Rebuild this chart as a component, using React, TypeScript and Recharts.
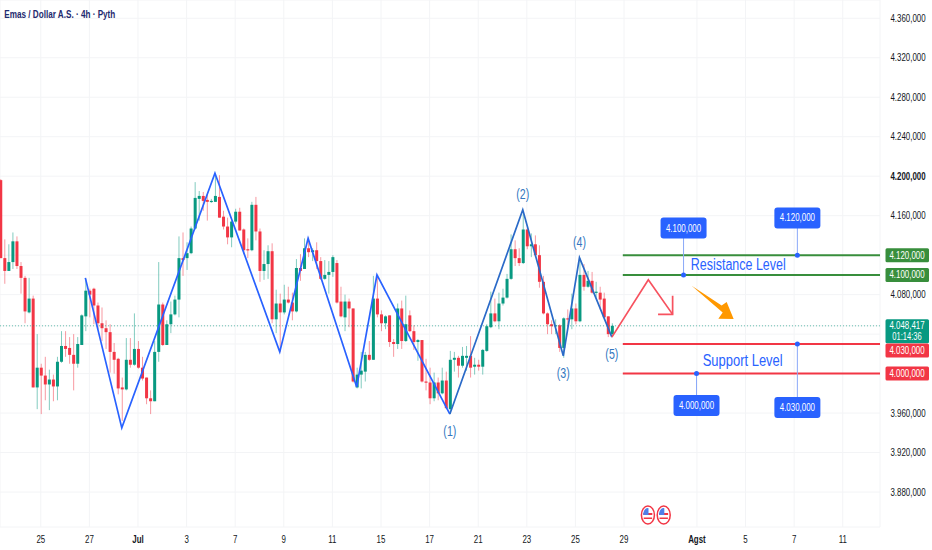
import {
  Bar,
  CartesianGrid,
  ComposedChart,
  Line,
  ReferenceDot,
  ReferenceLine,
  XAxis,
  YAxis,
} from "recharts";

const opens = [
  4196, 4117, 4104, 4113, 4134, 4109, 4097, 4062, 4076, 3986,
  4006, 3998, 3989, 3994, 3987, 4012, 4028, 4026, 4019, 4010,
  4029, 4058, 4084, 4086, 4069, 4051, 4046, 4042, 4022, 4015,
  3986, 3984, 4014, 4009, 4025, 4006, 3996, 3975, 3972, 4022,
  4070, 4029, 4050, 4060, 4075, 4117, 4117, 4122, 4147, 4177,
  4180, 4176, 4174, 4174,
  4179, 4159, 4149, 4138, 4154, 4164, 4146, 4126, 4125, 4171,
  4144, 4104, 4111, 4124, 4055, 4071, 4062, 4075, 4072, 4063,
  4107, 4106, 4127, 4123, 4125, 4114, 4096, 4100, 4103, 4112,
  4073, 4057, 4073, 4066, 3986, 3999, 4002, 4019, 4014, 4076,
  4060, 4051, 4059, 4032, 4030, 4066, 4033, 4059, 4043, 4032,
  4034, 3992, 3991,
  3975, 3991, 3980, 3993, 3964, 4014, 4016, 4008, 4016, 4018,
  4007, 4009, 4007, 4023, 4047, 4061, 4053, 4071, 4077, 4096,
  4126, 4117, 4112, 4146, 4129, 4131, 4120, 4093, 4061, 4050,
  4048, 4049, 4026, 4056, 4055, 4066, 4053, 4100, 4088, 4094,
  4082, 4082, 4076, 4058, 4040,
];
const highs = [
  4197, 4136, 4131, 4143, 4139, 4113, 4099, 4097, 4079, 4040,
  4010, 4017, 4004, 3999, 4017, 4043, 4043, 4037, 4040, 4037,
  4060, 4096, 4086, 4087, 4072, 4067, 4054, 4050, 4031, 4016,
  3996, 4036, 4036, 4061, 4033, 4017, 3996, 3983, 4033, 4113,
  4072, 4054, 4073, 4079, 4139, 4143, 4133, 4149, 4194, 4185,
  4184, 4182, 4177, 4202,
  4201, 4165, 4158, 4155, 4167, 4168, 4147, 4137, 4174, 4179,
  4147, 4125, 4130, 4132, 4085, 4081, 4090, 4088, 4082, 4116,
  4121, 4137, 4138, 4127, 4133, 4118, 4115, 4114, 4120, 4115,
  4088, 4080, 4076, 4066, 4006, 4022, 4022, 4033, 4099, 4099,
  4064, 4059, 4059, 4035, 4071, 4074, 4079, 4064, 4049, 4035,
  4034, 4015, 4006,
  4001, 3996, 4006, 4002, 4023, 4022, 4018, 4027, 4028, 4038,
  4016, 4014, 4025, 4050, 4083, 4076, 4082, 4086, 4101, 4141,
  4135, 4127, 4162, 4147, 4142, 4140, 4130, 4099, 4062, 4054,
  4055, 4050, 4057, 4065, 4081, 4071, 4117, 4111, 4104, 4103,
  4093, 4088, 4082, 4058, 4051,
];
const lows = [
  4117, 4091, 4104, 4106, 4106, 4081, 4051, 4061, 3986, 3964,
  3959, 3973, 3963, 3972, 3973, 4011, 4017, 4010, 3983, 4006,
  4029, 4043, 4057, 4050, 4045, 4033, 4025, 4001, 4000, 3979,
  3952, 3983, 4006, 4008, 4005, 3993, 3969, 3959, 3972, 4012,
  4028, 4029, 4041, 4059, 4057, 4099, 4105, 4121, 4146, 4155,
  4165, 4155, 4173, 4174,
  4158, 4146, 4131, 4128, 4152, 4145, 4121, 4117, 4124, 4135,
  4093, 4095, 4096, 4051, 4041, 4022, 4060, 4071, 4054, 4062,
  4094, 4106, 4118, 4114, 4106, 4095, 4095, 4081, 4098, 4071,
  4057, 4043, 4047, 3991, 3985, 3985, 3992, 4013, 4014, 4057,
  4043, 4045, 4027, 4017, 4025, 4025, 4032, 4042, 4024, 4013,
  3991, 3983, 3969,
  3972, 3973, 3979, 3964, 3959, 4002, 3996, 4006, 4003, 3996,
  3999, 4003, 3999, 4022, 4046, 4052, 4045, 4069, 4076, 4095,
  4109, 4109, 4111, 4126, 4118, 4118, 4087, 4060, 4040, 4040,
  4040, 4022, 4016, 4047, 4045, 4050, 4052, 4084, 4087, 4081,
  4077, 4065, 4056, 4037, 4037,
];
const closes = [
  4117, 4104, 4113, 4134, 4109, 4097, 4063, 4076, 3986, 4006,
  3998, 3989, 3994, 3987, 4012, 4028, 4025, 4019, 4010, 4030,
  4059, 4084, 4080, 4069, 4051, 4046, 4042, 4022, 4014, 3985,
  3984, 4014, 4009, 4025, 4006, 3995, 3975, 3972, 4022, 4070,
  4029, 4050, 4060, 4075, 4117, 4115, 4122, 4147, 4178, 4180,
  4175, 4174, 4175, 4180,
  4158, 4149, 4138, 4154, 4164, 4145, 4125, 4125, 4171, 4144,
  4104, 4111, 4124, 4055, 4071, 4062, 4075, 4072, 4063, 4107,
  4104, 4127, 4123, 4125, 4114, 4096, 4100, 4103, 4118, 4072,
  4058, 4073, 4066, 3992, 3999, 4003, 4019, 4014, 4076, 4060,
  4051, 4058, 4032, 4030, 4066, 4033, 4050, 4043, 4032, 4034,
  3992, 3991, 3975,
  3991, 3980, 3993, 3965, 4014, 4016, 4008, 4018, 4018, 4006,
  4009, 4007, 4024, 4048, 4061, 4053, 4071, 4077, 4096, 4126,
  4117, 4112, 4146, 4129, 4131, 4120, 4093, 4061, 4050, 4048,
  4049, 4026, 4056, 4055, 4066, 4053, 4100, 4088, 4094, 4082,
  4083, 4075, 4057, 4040, 4048.417,
];

const timeTicks = [10, 22, 34, 46, 58, 70, 82, 94, 106, 118, 130, 142, 154, 172, 184, 196, 208];
const timeLabels = ["25", "27", "Jul", "3", "7", "9", "11", "15", "17", "21", "23", "25", "29", "Agst", "5", "7", "11"];
const priceTicks = [3880, 3920, 3960, 4000, 4040, 4080, 4120, 4160, 4200, 4240, 4280, 4320, 4360];

const waveOne = [
  { i: 21, price: 4097 },
  { i: 30, price: 3945 },
  { i: 53, price: 4203 },
  { i: 69, price: 4022 },
  { i: 76, price: 4137 },
  { i: 88, price: 3986.5 },
  { i: 93, price: 4100 },
  { i: 111, price: 3959 },
];
const waveTwo = [
  { i: 111, price: 3959 },
  { i: 129, price: 4166 },
  { i: 139, price: 4018 },
  { i: 143, price: 4117.5 },
  { i: 151, price: 4037 },
];
const forecast = [
  { i: 151, price: 4037 },
  { i: 160, price: 4095 },
  { i: 166, price: 4060 },
];
const forecastHead = [
  { i: 162.4, price: 4060 },
  { i: 166, price: 4060 },
  { i: 166, price: 4079 },
];
const waveLabels = [
  { text: "(1)", i: 111, price: 3942 },
  { text: "(2)", i: 129, price: 4182 },
  { text: "(3)", i: 139, price: 4001 },
  { text: "(4)", i: 143, price: 4133 },
  { text: "(5)", i: 151, price: 4020 },
];
const callouts = [
  { text: "4.100,000", i: 168.7, level: 4100, boxPrice: 4147.5 },
  { text: "4.120,000", i: 196.8, level: 4120, boxPrice: 4157.7 },
  { text: "4.000,000", i: 171.9, level: 4000, boxPrice: 3967.7 },
  { text: "4.030,000", i: 196.8, level: 4030, boxPrice: 3965.7 },
];
const resistanceLevels = [4120, 4100];
const supportLevels = [4030, 4000];
const lastPrice = 4048.417;
const countdown = "01:14:36";
const flags = [159.9, 163.8];

const LEVEL_START = 153.7;
const X_END = 217.2;
const GREEN = "#089981";
const RED = "#f23645";
const BLUE = "#2962ff";
const LEVEL_GREEN = "#388e3c";
const FONT = "'Liberation Sans', Arial, sans-serif";

const candles = opens.map((open, i) => ({
  i,
  open,
  close: closes[i],
  range: [lows[i], highs[i]],
}));

const formatPrice = (v: number) => {
  const [whole, frac = ""] = v.toFixed(3).split(".");
  return `${whole[0]}.${whole.slice(1)},${frac}`;
};

const Candle = (props: any) => {
  const { x, y, width, height, payload } = props;
  const up = payload.close >= payload.open;
  const color = up ? GREEN : RED;
  const [low, high] = payload.range;
  const k = Math.abs(height) / (high - low);
  const top = y + (high - Math.max(payload.open, payload.close)) * k;
  const bodyH = Math.max(1.2, Math.abs(payload.close - payload.open) * k);
  const cx = x + width / 2;
  return (
    <g>
      <line x1={cx} x2={cx} y1={y} y2={y + Math.abs(height)} stroke={color} strokeOpacity={0.5} strokeWidth={1} />
      <rect x={x} y={top} width={width} height={bodyH} fill={color} />
    </g>
  );
};

const tags: Record<number, string> = { 4120: LEVEL_GREEN, 4100: LEVEL_GREEN, 4030: RED, 4000: RED };

// squeezed axis text, the source picture is narrower than its fonts
const AxisText = ({ x, y, fill, weight, size = 11, children }: any) => (
  <text
    transform={`translate(${x} ${y}) scale(0.72 1)`}
    textAnchor="middle"
    fill={fill}
    fontSize={size}
    fontWeight={weight}
    fontFamily={FONT}
  >
    {children}
  </text>
);

const PriceTick = (props: any) => {
  const { y, payload } = props;
  const v = payload.value as number;
  if (v === lastPrice) {
    return (
      <g>
        <rect x={885.5} y={y - 6.5} width={43.5} height={24} rx={1.5} fill={GREEN} />
        <AxisText x={907} y={y + 3.5} fill="#fff">{formatPrice(v)}</AxisText>
        <AxisText x={907} y={y + 14} fill="#fff" size={10.5}>{countdown}</AxisText>
      </g>
    );
  }
  if (tags[v]) {
    const cy = v === 4030 ? y + 6.5 : y;
    return (
      <g>
        <rect x={885.5} y={cy - 7} width={43.5} height={14} rx={1.5} fill={tags[v]} />
        <AxisText x={907} y={cy + 3.5} fill="#fff">{formatPrice(v)}</AxisText>
      </g>
    );
  }
  if (v === 4040) return <g />;
  return (
    <AxisText x={908} y={y + 3.5} fill="#131722" weight={v === 4200 ? 700 : 400}>
      {formatPrice(v)}
    </AxisText>
  );
};

const TimeTick = (props: any) => {
  const { x, y, payload } = props;
  const label = timeLabels[timeTicks.indexOf(payload.value)];
  const month = label === "Jul" || label === "Agst";
  return (
    <AxisText x={x} y={y + 7.5} fill="#131722" weight={month ? 700 : 400}>
      {label}
    </AxisText>
  );
};

const textShape = (text: string, size: number, length: number, fill: string, weight = 400) => (p: any) => (
  <text x={p.cx} y={p.cy + size * 0.36} textAnchor="middle" fill={fill} fontSize={size} fontWeight={weight} fontFamily={FONT} textLength={length} lengthAdjust="spacingAndGlyphs">
    {text}
  </text>
);

const calloutBox = (text: string) => (p: any) => (
  <g>
    <rect x={p.cx - 23} y={p.cy - 10.5} width={46} height={21} rx={3} fill={BLUE} />
    <AxisText x={p.cx} y={p.cy + 3.5} fill="#fff">{text}</AxisText>
  </g>
);

const OrangeArrow = (p: any) => (
  <polygon
    transform={`translate(${p.cx} ${p.cy})`}
    points="0,0 30,19.7 35,16.3 42,33.3 26.7,33 31,26.7"
    fill="#ff9800"
  />
);

const Flag = (p: any) => (
  <g transform={`translate(${p.cx} ${p.cy})`}>
    <ellipse rx={6.5} ry={9} fill="#fff" stroke={RED} strokeWidth={1.5} />
    <ellipse rx={4.6} ry={6.8} fill="#fff" />
    <path d="M-4.6 -2 h9 v2 h-9 z M-4.2 2.5 h8.4 v1.6 h-8.4 z" fill={RED} />
    <path d="M-4.6 0 L-4.6 -2 A4.6 6.8 0 0 1 0.6 -6.8 L0.6 0 z" fill="#4f7fe8" />
  </g>
);

export default function App() {
  return (
    <div style={{ position: "absolute", left: 0, top: 0, width: 932, height: 550, background: "#fff" }}>
      <ComposedChart width={932} height={550} data={candles} margin={{ top: 0, right: 0, bottom: 0, left: 0 }}>
        <CartesianGrid stroke="#f3f4f6" strokeWidth={1} />
        <XAxis
          type="number"
          dataKey="i"
          domain={[-0.07, X_END]}
          allowDataOverflow
          ticks={timeTicks}
          interval={0}
          height={23}
          axisLine={false}
          tickLine={false}
          tick={<TimeTick />}
        />
        <YAxis
          orientation="right"
          width={52}
          domain={[3844.6, 4378.5]}
          allowDataOverflow
          ticks={[...priceTicks, 4100, lastPrice, 4030]}
          interval={0}
          axisLine={false}
          tickLine={false}
          tick={<PriceTick />}
        />
        <ReferenceLine y={lastPrice} stroke={GREEN} strokeOpacity={0.6} strokeDasharray="1 2" />
        <Bar dataKey="range" barSize={3} shape={<Candle />} isAnimationActive={false} />
        <Line data={waveOne} dataKey="price" stroke={BLUE} strokeWidth={1.7} dot={false} activeDot={false} isAnimationActive={false} />
        <Line data={waveTwo} dataKey="price" stroke="#2a6ac8" strokeWidth={1.7} dot={false} activeDot={false} isAnimationActive={false} />
        <Line data={forecast} dataKey="price" stroke="#f7525f" strokeWidth={1.7} dot={false} activeDot={false} isAnimationActive={false} />
        <Line data={forecastHead} dataKey="price" stroke="#f7525f" strokeWidth={1.7} dot={false} activeDot={false} isAnimationActive={false} />

        {resistanceLevels.map((v) => (
          <ReferenceLine key={v} segment={[{ x: LEVEL_START, y: v }, { x: X_END, y: v }]} stroke={LEVEL_GREEN} strokeWidth={2} />
        ))}
        {supportLevels.map((v) => (
          <ReferenceLine key={v} segment={[{ x: LEVEL_START, y: v }, { x: X_END, y: v }]} stroke={RED} strokeWidth={2} />
        ))}

        {callouts.map((c) => (
          <ReferenceLine key={`stem${c.text}`} segment={[{ x: c.i, y: c.level }, { x: c.i, y: c.boxPrice }]} stroke="#8aa8f8" strokeWidth={1} />
        ))}
        {callouts.map((c) => (
          <ReferenceDot key={`dot${c.text}`} x={c.i} y={c.level} r={2.5} fill={BLUE} stroke="none" />
        ))}
        {callouts.map((c) => (
          <ReferenceDot key={`box${c.text}`} x={c.i} y={c.boxPrice} shape={calloutBox(c.text)} />
        ))}
        {waveLabels.map((l) => (
          <ReferenceDot key={l.text} x={l.i} y={l.price} shape={textShape(l.text, 14, 13, "#3377c0")} />
        ))}
        <ReferenceDot x={182.2} y={4111} shape={textShape("Resistance Level", 16, 95, BLUE)} />
        <ReferenceDot x={183.3} y={4014} shape={textShape("Support Level", 16, 80, BLUE)} />
        <ReferenceDot x={170.7} y={4089} shape={OrangeArrow} />
        {flags.map((f) => (
          <ReferenceDot key={f} x={f} y={3856.8} shape={Flag} />
        ))}
        <ReferenceDot x={14.7} y={4364} shape={textShape("Emas / Dollar A.S. · 4h · Pyth", 11, 111, "#1e2a6e", 700)} />
      </ComposedChart>
    </div>
  );
}
